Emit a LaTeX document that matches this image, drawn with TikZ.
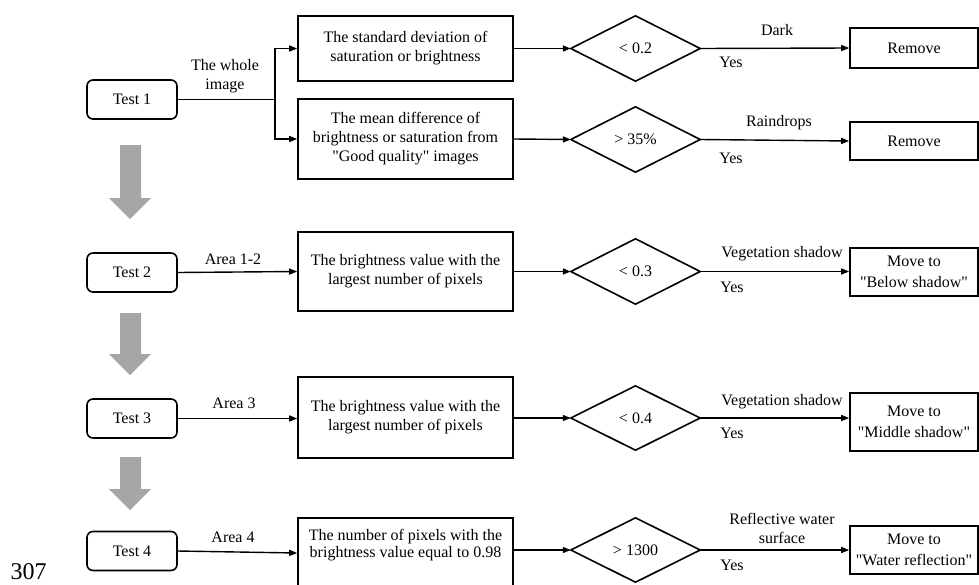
\documentclass[tikz,border=0pt]{standalone}
\usepackage{fontspec}
\setmainfont{Liberation Serif}
\usetikzlibrary{arrows.meta}
\definecolor{arrowgray}{RGB}{166,166,166}
\newcommand{\sq}{\textquotedbl}
\begin{document}
\begin{tikzpicture}[x=1pt,y=-1pt,
 every node/.style={font=\fontsize{16}{19}\selectfont},
 testbox/.style={draw, rounded corners=6pt, line width=1.6pt, minimum width=90pt, minimum height=39pt, inner sep=0pt},
 infobox/.style={draw, line width=1.6pt, minimum width=215pt, align=center, inner sep=0pt},
 dshape/.style={minimum width=129pt, minimum height=65pt, inner sep=0pt},
 dline/.style={line width=1.6pt},
 outbox/.style={draw, line width=1.6pt, minimum width=128pt, align=center, inner sep=0pt, font=\fontsize{16}{21}\selectfont},
 conn/.style={line width=1.4pt, -{Triangle[length=8pt,width=6pt]}},
 plainline/.style={line width=1.4pt},
 lbl/.style={inner sep=0pt, align=center}
]
\useasboundingbox (0,0) rectangle (979,584);
\clip (0,0) rectangle (979,584);

% test boxes
\node[testbox] (t1) at (132,99.5) {Test 1};
\node[testbox] (t2) at (132,272.5) {Test 2};
\node[testbox] (t3) at (132,418.5) {Test 3};
\node[testbox] (t4) at (132,551) {Test 4};

% gray arrows
\fill[arrowgray] (120,145) -- (141,145) -- (141,198) -- (151,198) -- (130,219) -- (109,198) -- (120,198) -- cycle;
\fill[arrowgray] (120,313) -- (141,313) -- (141,354) -- (151,354) -- (130,375) -- (109,354) -- (120,354) -- cycle;
\fill[arrowgray] (120,457) -- (141,457) -- (141,489) -- (151,489) -- (130,510) -- (109,489) -- (120,489) -- cycle;

% info boxes
\node[infobox, minimum height=65pt] (b1a) at (405.5,48.5) {The standard deviation of\\saturation or brightness};
\node[infobox, minimum height=80pt] (b1b) at (405.5,139) {The mean difference of\\brightness or saturation from\\\sq Good quality\sq{} images};
\node[infobox, minimum height=79pt] (b2) at (405.5,271.5) {The brightness value with the\\largest number of pixels};
\node[infobox, minimum height=81pt] (b3) at (405.5,417.5) {The brightness value with the\\largest number of pixels};
\node[infobox, minimum height=76pt, font=\fontsize{16}{17}\selectfont] (b4) at (405.5,556) {The number of pixels with the\\brightness value equal to 0.98\\[8pt]};

% diamonds
\node[dshape] (d1) at (635.5,48.5) {< 0.2};
\node[dshape] (d2) at (635.5,139.5) {> 35\%};
\node[dshape] (d3) at (635.5,271.5) {< 0.3};
\node[dshape, minimum height=64pt] (d4) at (635.5,418) {< 0.4};
\node[dshape, minimum height=64pt] (d5) at (635.5,550) {> 1300};
\foreach \d in {d1,d2,d3,d4,d5}{
  \draw[dline] (\d.west) -- (\d.north) -- (\d.east) -- (\d.south) -- cycle;
}

% output boxes
\node[outbox, minimum height=40pt] (r1) at (914,48) {Remove};
\node[outbox, minimum height=38pt] (r2) at (914,141) {Remove};
\node[outbox, minimum height=48pt] (r3) at (914,272) {Move to\\\sq Below shadow\sq};
\node[outbox, minimum height=58pt] (r4) at (914,422) {Move to\\\sq Middle shadow\sq};
\node[outbox, minimum height=48pt] (r5) at (914,550) {Move to\\\sq Water reflection\sq};

% connectors row 1
\coordinate (j1) at (275,99.5);
\draw[plainline] (t1.east) -- (j1);
\draw[conn] (j1) |- (b1a.west);
\draw[conn] (j1) |- (b1b.west);
\node[lbl] (lw) at (225,76.5) {The whole\\image};

\draw[conn] (b1a.east) -- (d1.west);
\draw[conn] (b1b.east) -- (d2.west);
\draw[conn] (d1.east) -- (r1.west);
\draw[conn] (d2.east) -- (r2.west);
\node[lbl] (l1) at (777,30) {Dark};
\node[lbl] (y1) at (731,62) {Yes};
\node[lbl] (l2) at (779,123) {Raindrops};
\node[lbl] (y2) at (731,158) {Yes};

% row 2
\draw[conn] (t2.east) -- (b2.west);
\node[lbl] (a2) at (233,259) {Area 1-2};
\draw[conn] (b2.east) -- (d3.west);
\draw[conn] (d3.east) -- (r3.west |- d3.east);
\node[lbl] (l3) at (782,254) {Vegetation shadow};
\node[lbl] (y3) at (732,287) {Yes};

% row 3
\draw[conn] (t3.east) -- (b3.west |- t3.east);
\node[lbl] (a3) at (234,403) {Area 3};
\draw[conn] (b3.east |- d4.west) -- (d4.west);
\draw[conn] (d4.east) -- (r4.west |- d4.east);
\node[lbl] (l4) at (782,402) {Vegetation shadow};
\node[lbl] (y4) at (732,433) {Yes};

% row 4
\draw[conn] (t4.east) -- (b4.west |- 0,553);
\node[lbl] (a4) at (233,537) {Area 4};
\draw[conn] (b4.east |- d5.west) -- (d5.west);
\draw[conn] (d5.east) -- (r5.west);
\node[lbl] (l5) at (782,528.5) {Reflective water\\surface};
\node[lbl] (y5) at (732,565) {Yes};

% page number
\node[anchor=base, inner sep=0pt, font=\fontsize{24}{24}\selectfont] (pg) at (28.5,579) {307};
\end{tikzpicture}
\end{document}
